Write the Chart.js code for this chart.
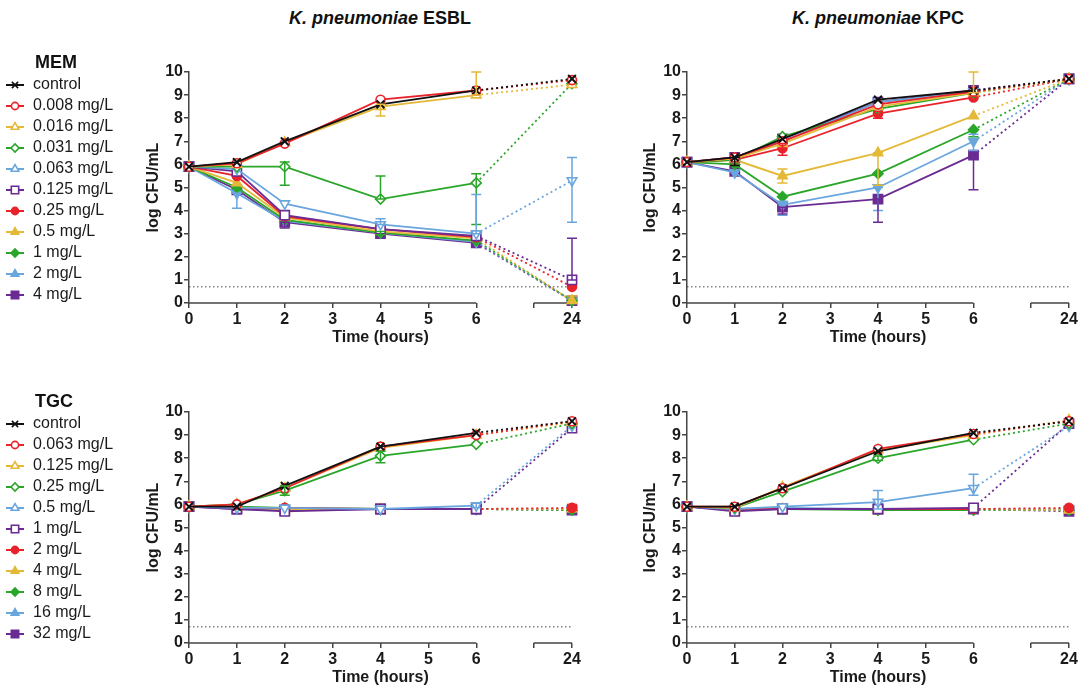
<!DOCTYPE html>
<html><head><meta charset="utf-8">
<script src="https://cdn.jsdelivr.net/npm/chart.js@4.4.1/dist/chart.umd.min.js"></script>
<style>
html,body{margin:0;padding:0;background:#fff;}
body{width:1081px;height:688px;overflow:hidden;position:relative;font-family:"Liberation Sans",Arial,sans-serif;}
.ptitle{position:absolute;top:8px;font-weight:bold;font-size:18px;line-height:21px;color:#111;white-space:nowrap;transform:translateX(-50%);}
canvas{position:absolute;}
</style></head>
<body>
<div class="ptitle" style="left:380px"><i>K. pneumoniae</i> ESBL</div>
<div class="ptitle" style="left:878px"><i>K. pneumoniae</i> KPC</div>
<canvas id="c1" width="600" height="297" style="left:0;top:50px;width:600px;height:297px"></canvas>
<canvas id="c2" width="481" height="297" style="left:600px;top:50px;width:481px;height:297px"></canvas>
<canvas id="c3" width="600" height="297" style="left:0;top:390px;width:600px;height:297px"></canvas>
<canvas id="c4" width="481" height="297" style="left:600px;top:390px;width:481px;height:297px"></canvas>
<script>
// ---------------- DATA ----------------
const timePoints = [0, 1, 2, 4, 6, 24];
const xTickValues = [0, 1, 2, 3, 4, 5, 6, 7.2, 8];   // axis positions (8 is labelled "24")
const breakStart = 7.2;
const detectionLimit = 0.7;

const memLabels = ['control', '0.008 mg/L', '0.016 mg/L', '0.031 mg/L', '0.063 mg/L', '0.125 mg/L',
                   '0.25 mg/L', '0.5 mg/L', '1 mg/L', '2 mg/L', '4 mg/L'];
const tgcLabels = ['control', '0.063 mg/L', '0.125 mg/L', '0.25 mg/L', '0.5 mg/L', '1 mg/L',
                   '2 mg/L', '4 mg/L', '8 mg/L', '16 mg/L', '32 mg/L'];

// K. pneumoniae ESBL, meropenem (one row per label)
const esblMemValues = [
  [5.9, 6.1, 7.0, 8.6, 9.2, 9.7],
  [5.9, 6.05, 6.9, 8.8, 9.2, 9.65],
  [5.9, 6.0, 6.95, 8.5, 9.0, 9.45],
  [5.9, 5.9, 5.9, 4.5, 5.2, 9.5],
  [5.9, 5.8, 4.3, 3.4, 3.0, 5.3],
  [5.9, 5.7, 3.8, 3.2, 2.9, 1.0],
  [5.9, 5.5, 3.75, 3.2, 2.85, 0.7],
  [5.9, 5.2, 3.7, 3.1, 2.8, 0.1],
  [5.9, 5.0, 3.6, 3.05, 2.7, 0.1],
  [5.9, 4.75, 3.55, 3.05, 2.65, 0.1],
  [5.9, 4.9, 3.5, 3.0, 2.6, 0.1]
];
// [series, time index, low, high]
const esblMemErrors = [
  [3, 2, 5.1, 6.1], [2, 3, 8.1, 8.6], [3, 3, 4.5, 5.5], [4, 3, 3.4, 3.65], [9, 1, 4.1, 4.75],
  [10, 2, 3.25, 3.5], [8, 3, 2.95, 3.1], [2, 4, 9.0, 10.0], [3, 4, 3.4, 5.6], [4, 4, 3.0, 4.7],
  [4, 5, 3.5, 6.3], [5, 5, 1.0, 2.8], [7, 5, 0.0, 0.3]
];

// K. pneumoniae KPC, meropenem
const kpcMemValues = [
  [6.1, 6.3, 7.1, 8.8, 9.2, 9.7],
  [6.1, 6.3, 7.0, 8.6, 9.15, 9.7],
  [6.1, 6.25, 6.9, 8.5, 9.1, 9.7],
  [6.1, 6.2, 7.2, 8.4, 9.1, 9.7],
  [6.1, 6.25, 7.0, 8.7, 9.15, 9.7],
  [6.1, 6.3, 7.1, 8.7, 9.2, 9.7],
  [6.1, 6.2, 6.7, 8.2, 8.9, 9.7],
  [6.1, 6.2, 5.5, 6.5, 8.1, 9.7],
  [6.1, 6.0, 4.6, 5.6, 7.5, 9.7],
  [6.1, 5.65, 4.25, 5.0, 7.0, 9.7],
  [6.1, 5.7, 4.15, 4.5, 6.4, 9.7]
];
const kpcMemErrors = [
  [0, 1, 5.95, 6.3], [6, 2, 6.4, 6.9], [7, 2, 5.2, 5.8], [9, 2, 3.8, 4.4], [10, 2, 3.85, 4.15],
  [6, 3, 8.0, 8.3], [7, 3, 5.1, 6.5], [9, 3, 4.0, 5.0], [10, 3, 3.5, 4.5], [2, 4, 9.1, 10.0],
  [8, 4, 7.2, 7.5], [9, 4, 6.6, 7.3], [10, 4, 4.9, 6.4]
];

// K. pneumoniae ESBL, tigecycline
const esblTgcValues = [
  [5.9, 5.9, 6.8, 8.5, 9.1, 9.6],
  [5.9, 6.0, 6.7, 8.5, 9.0, 9.6],
  [5.9, 6.0, 6.7, 8.45, 9.0, 9.55],
  [5.9, 6.0, 6.6, 8.1, 8.6, 9.5],
  [5.9, 5.85, 5.85, 5.8, 5.95, 9.4],
  [5.9, 5.8, 5.7, 5.8, 5.8, 9.3],
  [5.9, 5.85, 5.85, 5.8, 5.8, 5.85],
  [5.9, 5.85, 5.8, 5.8, 5.8, 5.8],
  [5.9, 5.9, 5.85, 5.8, 5.8, 5.75],
  [5.9, 5.85, 5.8, 5.8, 5.8, 5.8],
  [5.9, 5.8, 5.75, 5.8, 5.8, 5.75]
];
const esblTgcErrors = [
  [3, 2, 6.4, 6.8], [3, 3, 7.8, 8.3], [6, 5, 5.75, 6.0], [4, 4, 5.85, 6.05]
];

// K. pneumoniae KPC, tigecycline
const kpcTgcValues = [
  [5.9, 5.9, 6.7, 8.3, 9.1, 9.6],
  [5.9, 5.9, 6.7, 8.4, 9.05, 9.6],
  [5.9, 5.85, 6.75, 8.35, 9.0, 9.65],
  [5.9, 5.85, 6.55, 8.0, 8.8, 9.5],
  [5.9, 5.8, 5.9, 6.1, 6.7, 9.4],
  [5.9, 5.7, 5.8, 5.8, 5.85, 9.5],
  [5.9, 5.8, 5.8, 5.8, 5.8, 5.85],
  [5.9, 5.8, 5.8, 5.8, 5.8, 5.75],
  [5.9, 5.8, 5.8, 5.75, 5.75, 5.75],
  [5.9, 5.8, 5.85, 5.8, 5.8, 5.8],
  [5.9, 5.75, 5.8, 5.8, 5.8, 5.7]
];
const kpcTgcErrors = [
  [4, 3, 5.8, 6.6], [4, 4, 6.4, 7.3], [3, 3, 7.9, 8.1]
];

// ---------------- STYLES ----------------
const BLACK = '#111111', RED = '#e8232b', YELLOW = '#e4b937', GREEN = '#2aa62a', BLUE = '#6aa6de', PURPLE = '#6a2b92';
const seriesStyle = [
  {c: BLACK, s: 'crossRot', open: false, r: 5.5},
  {c: RED, s: 'circle', open: true, r: 4.5},
  {c: YELLOW, s: 'triangle', open: true, r: 5.5},
  {c: GREEN, s: 'rectRot', open: true, r: 5},
  {c: BLUE, s: 'triangle', rot: 180, open: true, r: 5.5},
  {c: PURPLE, s: 'rect', open: true, r: 6.5},
  {c: RED, s: 'circle', open: false, r: 4.5},
  {c: YELLOW, s: 'triangle', open: false, r: 5.5},
  {c: GREEN, s: 'rectRot', open: false, r: 5},
  {c: BLUE, s: 'triangle', rot: 180, open: false, r: 5.5},
  {c: PURPLE, s: 'rect', open: false, r: 6.5}
];
const FONT = '"Liberation Sans", Arial, sans-serif';
Chart.defaults.font.family = FONT;
const axisPos = t => (t === 24 ? 8 : t);

function drawMarker(ctx, style, x, y, r, rotDeg) {
  ctx.beginPath();
  if (style === 'circle') ctx.arc(x, y, r, 0, 2 * Math.PI);
  else if (style === 'triangle') {
    let a = (rotDeg || 0) * Math.PI / 180;
    for (let k = 0; k < 3; k++) {
      const px = x + Math.sin(a) * r, py = y - Math.cos(a) * r;
      if (k) ctx.lineTo(px, py); else ctx.moveTo(px, py);
      a += 2 * Math.PI / 3;
    }
    ctx.closePath();
  } else if (style === 'rect') {
    const s = r * Math.SQRT1_2; ctx.rect(x - s, y - s, 2 * s, 2 * s);
  } else if (style === 'rectRot') {
    ctx.moveTo(x - r, y); ctx.lineTo(x, y - r); ctx.lineTo(x + r, y); ctx.lineTo(x, y + r); ctx.closePath();
  } else if (style === 'crossRot') {
    const o = r * Math.SQRT1_2;
    ctx.moveTo(x - o, y - o); ctx.lineTo(x + o, y + o); ctx.moveTo(x + o, y - o); ctx.lineTo(x - o, y + o);
  }
}
const legendIcons = seriesStyle.map(st => {
  const cv = document.createElement('canvas'); cv.width = 20; cv.height = 14;
  const c = cv.getContext('2d');
  c.strokeStyle = st.c; c.lineWidth = 2;
  c.beginPath(); c.moveTo(1, 7); c.lineTo(19, 7); c.stroke();
  c.lineWidth = 1.6;
  c.fillStyle = st.open ? '#fff' : st.c;
  drawMarker(c, st.s, 10, 7, st.r * 0.8, st.rot);
  if (st.s !== 'crossRot') c.fill();
  c.stroke();
  return cv;
});

function makeDatasets(labels, values) {
  const ds = labels.map((lab, i) => {
    const st = seriesStyle[i];
    return {
      label: lab,
      data: values[i].map((v, j) => ({x: axisPos(timePoints[j]), y: v})),
      borderColor: st.c,
      backgroundColor: st.open ? '#fff' : st.c,
      pointBorderColor: st.c,
      pointBackgroundColor: st.open ? '#fff' : st.c,
      pointStyle: st.s,
      pointRotation: st.rot || 0,
      pointRadius: st.r,
      pointBorderWidth: st.s === 'crossRot' ? 2 : 1.6,
      borderWidth: 1.8,
      tension: 0,
      clip: false,
      segment: {borderDash: ctx => (ctx.p1DataIndex === timePoints.length - 1 ? [2, 3] : undefined)}
    };
  });
  ds.push({
    label: 'LOD', data: [{x: 0, y: detectionLimit}, {x: 8, y: detectionLimit}],
    borderColor: '#444', borderWidth: 1, borderDash: [1.5, 2.5], pointRadius: 0, clip: false
  });
  return ds;
}

function errorBarPlugin(bars) {
  return {
    id: 'errorBars',
    afterDatasetsDraw(chart) {
      const {ctx, scales: {x, y}} = chart;
      ctx.save(); ctx.lineWidth = 1.5;
      bars.forEach(([si, ti, lo, hi]) => {
        const px = x.getPixelForValue(axisPos(timePoints[ti]));
        const y1 = y.getPixelForValue(lo), y2 = y.getPixelForValue(hi);
        ctx.strokeStyle = seriesStyle[si].c;
        ctx.beginPath();
        ctx.moveTo(px, y1); ctx.lineTo(px, y2);
        ctx.moveTo(px - 5, y1); ctx.lineTo(px + 5, y1);
        ctx.moveTo(px - 5, y2); ctx.lineTo(px + 5, y2);
        ctx.stroke();
      });
      ctx.restore();
    }
  };
}

const brokenAxisPlugin = {
  id: 'brokenAxis',
  beforeDatasetsDraw(chart) {
    const {ctx, scales: {x}, chartArea} = chart;
    const yb = chartArea.bottom;
    ctx.save(); ctx.strokeStyle = '#444'; ctx.lineWidth = 1.5;
    ctx.beginPath();
    ctx.moveTo(x.getPixelForValue(0) - 0.75, yb); ctx.lineTo(x.getPixelForValue(6), yb);
    ctx.moveTo(x.getPixelForValue(breakStart), yb); ctx.lineTo(x.getPixelForValue(8), yb);
    ctx.stroke(); ctx.restore();
  }
};

function legendFixPlugin(legendWidth, legendTop) {
  return {
    id: 'legendFix',
    afterInit(chart) {
      const lg = chart.legend; if (!lg || typeof lg.fit !== 'function') return;
      const fit = lg.fit.bind(lg);
      lg.fit = function () { fit(); if (this.options && this.options.display) this.width = legendWidth; };
    },
    afterLayout(chart) {
      const lg = chart.legend; if (!lg || !lg.options || !lg.options.display) return;
      const h = lg.bottom - lg.top; lg.top = legendTop; lg.bottom = legendTop + h;
    }
  };
}

function makeChart(id, labels, values, errors, opt) {
  const plugins = [errorBarPlugin(errors), brokenAxisPlugin];
  if (opt.legendTitle) plugins.push(legendFixPlugin(opt.legendWidth, opt.legendTop));
  return new Chart(document.getElementById(id), {
    type: 'line',
    data: {datasets: makeDatasets(labels, values)},
    plugins,
    options: {
      responsive: false, animation: false, events: [], devicePixelRatio: 1,
      layout: {padding: {left: 0, right: opt.padRight, top: 22, bottom: 0}},
      plugins: {
        tooltip: {enabled: false},
        legend: opt.legendTitle ? {
          display: true, position: 'left', align: 'start',
          title: {display: true, text: '       ' + opt.legendTitle, position: 'start', color: '#111',
                  font: {size: 18, weight: 'bold', lineHeight: 1}, padding: 0},
          labels: {
            usePointStyle: true, pointStyleWidth: 20, padding: 5, color: '#1a1a1a',
            font: {size: 16},
            generateLabels: chart => {
              const items = Chart.defaults.plugins.legend.labels.generateLabels(chart);
              items.forEach(it => { if (legendIcons[it.datasetIndex]) it.pointStyle = legendIcons[it.datasetIndex]; });
              return items;
            },
            filter: item => item.datasetIndex < labels.length
          }
        } : {display: false}
      },
      scales: {
        x: {
          type: 'linear', min: 0, max: 8,
          afterFit: s => { s.height = 44; },
          afterBuildTicks: s => { s.ticks = xTickValues.map(v => ({value: v})); },
          ticks: {autoSkip: false, maxRotation: 0, padding: 2, color: '#1a1a1a',
                  font: {size: 16, weight: 'bold'},
                  callback: v => (v === 8 ? '24' : (v > 6 ? '' : String(v)))},
          grid: {drawOnChartArea: false, drawTicks: true, tickLength: 5, color: '#444', lineWidth: 1.5},
          border: {display: false},
          title: {display: true, text: 'Time (hours)', color: '#1a1a1a',
                  font: {size: 16, weight: 'bold'}, padding: {top: 0, bottom: 0}}
        },
        y: {
          type: 'linear', min: 0, max: 10,
          afterFit: s => { s.width = opt.yWidth; },
          ticks: {stepSize: 1, padding: 1, color: '#1a1a1a', font: {size: 16, weight: 'bold'}},
          grid: {drawOnChartArea: false, drawTicks: true, tickLength: 5, color: '#444', lineWidth: 1.5},
          border: {display: true, color: '#444', width: 1.5},
          title: {display: true, text: 'log CFU/mL', color: '#1a1a1a',
                  font: {size: 16, weight: 'bold'}, padding: {top: opt.yTitlePad, bottom: 0}}
        }
      }
    }
  });
}

makeChart('c1', memLabels, esblMemValues, esblMemErrors,
  {legendTitle: 'MEM', legendWidth: 129, legendTop: 4, yWidth: 60, yTitlePad: 15, padRight: 28});
makeChart('c2', memLabels, kpcMemValues, kpcMemErrors,
  {legendTitle: null, yWidth: 87, yTitlePad: 41, padRight: 12});
makeChart('c3', tgcLabels, esblTgcValues, esblTgcErrors,
  {legendTitle: 'TGC', legendWidth: 129, legendTop: 3, yWidth: 60, yTitlePad: 15, padRight: 28});
makeChart('c4', tgcLabels, kpcTgcValues, kpcTgcErrors,
  {legendTitle: null, yWidth: 87, yTitlePad: 41, padRight: 12});
</script>
</body></html>
